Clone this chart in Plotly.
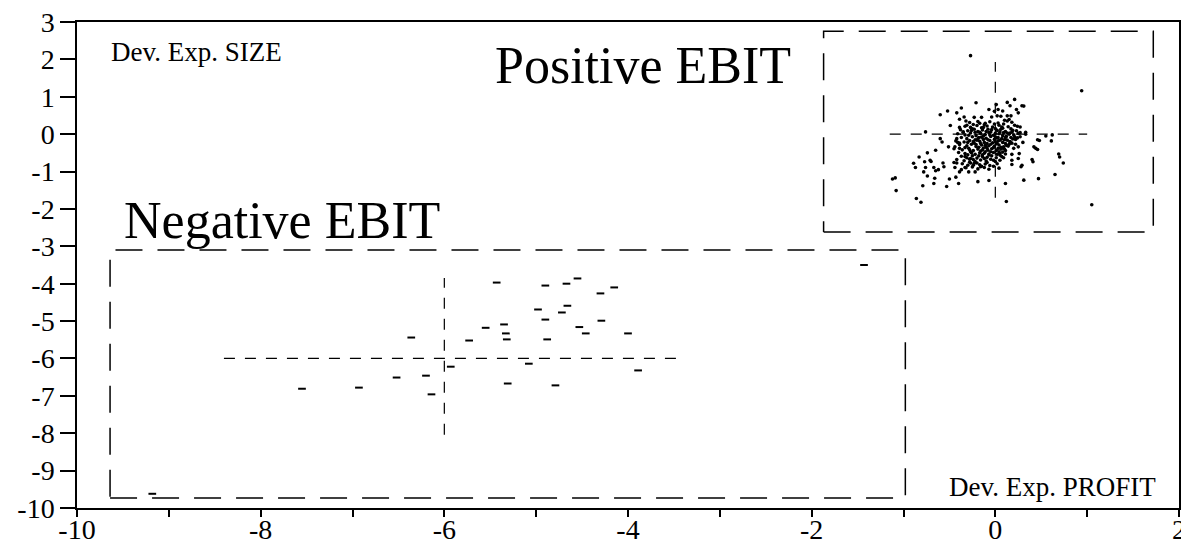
import plotly.graph_objects as go

# ---------------- data ----------------
# Negative EBIT firms (dash markers)
neg_x = [-5.43, -4.90, -4.67, -4.55, -4.30, -4.15, -4.98, -4.66, -4.72, -4.90, -4.29,
         -5.35, -5.55, -5.33, -5.32, -5.73, -6.36, -4.88, -4.53, -4.46, -4.00, -5.08,
         -5.93, -3.89, -6.20, -6.52, -6.93, -7.55, -6.14, -5.31, -4.79, -1.43, -9.18]
neg_y = [-3.97, -4.05, -4.00, -3.86, -4.26, -4.10, -4.69, -4.59, -4.77, -4.96, -4.99,
         -5.09, -5.18, -5.33, -5.49, -5.52, -5.44, -5.49, -5.16, -5.33, -5.33, -6.14,
         -6.22, -6.32, -6.46, -6.51, -6.78, -6.81, -6.96, -6.67, -6.72, -3.50, -9.62]

# Positive EBIT firms, scattered points
pos_sparse_x = [-0.27, -0.21, -0.60, -0.52, -0.42, -0.37, -0.34, -0.49, -0.39, -0.39, -0.32,
                -0.31, -0.23, -0.15, -0.07, -0.04, -0.01, -0.76, -0.35,
                0.94, 0.21, 0.13, 0.16, 0.29, 0.23, 0.25, 0.08, 0.03, 0.02, 0.06, 0.13,
                0.17, 0.15, 0.10, 0.24, 0.27, 0.19, 0.16, 0.33, 0.25, 0.01, 0.31,
                -0.60, -0.58, -0.51, -0.42, -0.41, -0.44, -0.39, -0.65, -0.74, -0.83, -0.71,
                -0.77, -0.89, -0.87, -0.76, -0.67, -0.57, -0.56, -0.45, -0.42, -0.44, -0.65,
                -0.62, -0.78, -0.39, -0.37, -0.33, -0.29, -0.22, -0.16, -0.24, -0.27, -0.74,
                -0.66, -0.50, -0.43, -1.09, -1.12, -1.08, -0.67, -0.79, -0.53, -0.40, -0.19,
                -0.07, -0.86, -0.81, -0.70,
                0.55, 0.62, 0.61, 0.46, 0.42, 0.44, 0.69, 0.70, 0.74, 0.40, 0.41, 0.28,
                0.29, 0.18, 0.18, 0.25, 0.26, 0.18, 0.11, 0.05, 0.65, 0.47, 0.31, 0.11,
                0.12, 1.05, 0.25, 0.20, 0.14, 0.22, 0.30, 0.27, 0.33, 0.22, 0.16, 0.11,
                0.07, 0.04, 0.17, 0.11, 0.05, 0.02, 0.48, 0.46]
pos_sparse_y = [2.10, 0.84, 0.52, 0.62, 0.57, 0.70, 0.46, 0.23, 0.40, 0.18, 0.35,
                0.24, 0.45, 0.45, 0.66, 0.46, 0.61, 0.06, 0.05,
                1.16, 0.93, 0.85, 0.76, 0.76, 0.66, 0.57, 0.62, 0.66, 0.49, 0.48, 0.49,
                0.49, 0.39, 0.37, 0.21, 0.19, 0.10, 0.03, 0.05, 0.02, 0.79, 0.75,
                -0.12, -0.21, -0.34, -0.12, -0.22, -0.34, -0.38, -0.43, -0.50, -0.61, -0.70,
                -0.74, -0.78, -0.89, -0.89, -0.89, -0.77, -0.87, -0.76, -0.77, -0.89, -0.98,
                -0.95, -1.01, -1.01, -0.95, -0.89, -1.01, -1.01, -0.87, -0.83, -0.77, -1.12,
                -1.18, -1.20, -1.15, -1.17, -1.20, -1.51, -1.32, -1.38, -1.40, -1.32, -1.27,
                -1.24, -1.72, -1.82, -0.73,
                -0.05, -0.02, -0.18, -0.15, -0.34, -0.38, -0.53, -0.61, -0.77, -0.68, -0.74, -0.87,
                -0.83, -0.81, -0.70, -0.65, -0.52, -0.54, -0.53, -0.56, -1.08, -1.19, -1.23, -1.32,
                -1.80, -1.89, -0.34, -0.38, -0.32, -0.27, -0.22, -0.07, 0.00, -0.14, -0.21, -0.25,
                -0.38, -0.47, -0.09, -0.09, -0.16, -0.25, -0.17, -0.41]

# Positive EBIT firms, dense core
pos_core_x = [-0.28, -0.19, -0.11, -0.06, 0.03, 0.09, 0.18, -0.24, 0.13,
              -0.33, -0.27, -0.20, -0.15, -0.09, -0.03, 0.04, 0.08, 0.14, 0.21, -0.12, 0.00,
              -0.38, -0.30, -0.25, -0.19, -0.14, -0.08, -0.05, 0.02, 0.06, 0.11, 0.17, 0.23, -0.22, 0.09,
              -0.41, -0.33, -0.27, -0.21, -0.16, -0.11, -0.07, -0.02, 0.04, 0.08, 0.13, 0.20, 0.27, -0.13, 0.00,
              -0.37, -0.31, -0.25, -0.19, -0.15, -0.10, -0.05, -0.01, 0.03, 0.07, 0.12, 0.19, 0.24, -0.22, 0.00, -0.08,
              -0.43, -0.34, -0.28, -0.23, -0.17, -0.12, -0.06, -0.03, 0.03, 0.08, 0.13, 0.18, -0.09, 0.00, -0.20,
              -0.39, -0.31, -0.26, -0.21, -0.15, -0.10, -0.05, -0.01, 0.04, 0.09, 0.15, -0.18, -0.07, 0.06,
              -0.45, -0.36, -0.29, -0.24, -0.19, -0.13, -0.08, -0.04, 0.01, 0.06, 0.11, -0.16, -0.02,
              -0.40, -0.33, -0.27, -0.22, -0.17, -0.11, -0.07, -0.02, 0.02, 0.08, -0.14, -0.30,
              -0.37, -0.31, -0.25, -0.20, -0.14, -0.09, -0.04, 0.01, 0.07, -0.27,
              -0.42, -0.34, -0.28, -0.22, -0.16, -0.10, -0.05, 0.00, 0.05,
              -0.36, -0.30, -0.23, -0.17, -0.11, -0.06, 0.02, -0.02,
              -0.32, -0.25, -0.19, -0.12, -0.07, 0.04]
pos_core_y = [0.31, 0.34, 0.29, 0.33, 0.30, 0.27, 0.32, 0.26, 0.35,
              0.21, 0.18, 0.23, 0.17, 0.22, 0.19, 0.24, 0.16, 0.20, 0.24, 0.25, 0.15,
              0.12, 0.09, 0.14, 0.07, 0.11, 0.13, 0.06, 0.10, 0.13, 0.07, 0.14, 0.09, 0.05, 0.04,
              0.01, -0.02, 0.03, -0.04, 0.02, -0.01, 0.04, -0.03, 0.01, -0.04, 0.03, -0.02, 0.04, -0.05, 0.02,
              -0.09, -0.12, -0.07, -0.13, -0.08, -0.11, -0.06, -0.14, -0.09, -0.12, -0.06, -0.13, -0.10, -0.15, -0.07, -0.15,
              -0.18, -0.21, -0.17, -0.24, -0.19, -0.22, -0.17, -0.23, -0.18, -0.22, -0.16, -0.24, -0.25, -0.20, -0.16,
              -0.28, -0.31, -0.27, -0.33, -0.29, -0.34, -0.27, -0.32, -0.29, -0.34, -0.27, -0.35, -0.31, -0.35,
              -0.39, -0.42, -0.38, -0.44, -0.40, -0.37, -0.43, -0.39, -0.44, -0.40, -0.44, -0.45, -0.36,
              -0.49, -0.52, -0.47, -0.54, -0.50, -0.47, -0.53, -0.49, -0.54, -0.48, -0.55, -0.55,
              -0.59, -0.63, -0.58, -0.64, -0.60, -0.62, -0.58, -0.63, -0.60, -0.65,
              -0.68, -0.71, -0.67, -0.73, -0.69, -0.72, -0.67, -0.73, -0.70,
              -0.79, -0.83, -0.78, -0.82, -0.80, -0.84, -0.79, -0.86,
              -0.90, -0.88, -0.93, -0.89, -0.94, -0.91]
pos_core2_x = [-0.26, -0.17, -0.04, 0.05, 0.15, -0.29, -0.18, -0.06, 0.10, -0.24,
               -0.13, 0.01, 0.12, -0.33, -0.21, -0.11, 0.03, -0.26, -0.14, -0.05,
               0.05, -0.18, -0.07, -0.33, -0.24, -0.12, -0.02, -0.20, -0.09, -0.15,
               -0.35, -0.10, 0.18, -0.23, 0.01, -0.16, 0.16, -0.28, 0.10, -0.09,
               -0.30, 0.07, -0.17, -0.01, -0.13, 0.21, -0.39, -0.12, -0.28, 0.09]
pos_core2_y = [0.10, 0.05, 0.12, 0.06, 0.00, -0.03, -0.09, -0.02, -0.15, -0.20,
               -0.14, -0.26, -0.30, -0.36, -0.28, -0.30, -0.38, -0.50, -0.42, -0.47,
               -0.52, -0.58, -0.56, -0.60, -0.68, -0.65, -0.70, -0.77, -0.76, -0.86,
               0.06, 0.07, 0.05, 0.13, -0.10, -0.25, -0.20, -0.42, -0.40, -0.38,
               -0.22, 0.19, 0.29, 0.27, 0.18, -0.07, -0.24, -0.51, -0.75, -0.63]

# Group boxes [x0, x1, y0, y1]
neg_box = [-9.64, -0.98, -9.73, -3.10]
pos_box = [-1.87, 1.72, -2.62, 2.75]
# Group centre cross-hairs: horizontal [x0, x1, y], vertical [x, y0, y1]
neg_hline = [-8.40, -3.38, -6.0]
neg_vline = [-6.0, -8.04, -3.85]
pos_hline = [-1.15, 1.00, 0.0]
pos_vline = [0.0, -1.70, 1.93]

x_ticks = [-10, -8, -6, -4, -2, 0, 2]
y_ticks = list(range(-10, 4))

FONT = "Liberation Serif, Times New Roman, serif"
TICK_SIZE = 28

fig = go.Figure()


def add_box(b):
    x0, x1, y0, y1 = b
    fig.add_trace(go.Scatter(x=[x0, x1, x1, x0, x0], y=[y0, y0, y1, y1, y0],
                             mode="lines", line=dict(color="black", width=1.5, dash="27px,15px"),
                             hoverinfo="skip", showlegend=False))


def add_cross(h, v):
    fig.add_trace(go.Scatter(x=[h[0], h[1]], y=[h[2], h[2]], mode="lines",
                             line=dict(color="black", width=1.2, dash="11px,10px"),
                             hoverinfo="skip", showlegend=False))
    fig.add_trace(go.Scatter(x=[v[0], v[0]], y=[v[1], v[2]], mode="lines",
                             line=dict(color="black", width=1.2, dash="11px,10px"),
                             hoverinfo="skip", showlegend=False))


add_box(neg_box)
add_box(pos_box)
add_cross(neg_hline, neg_vline)
add_cross(pos_hline, pos_vline)

fig.add_trace(go.Scatter(x=neg_x, y=neg_y, mode="markers",
                         marker=dict(symbol="line-ew", size=5.5, color="black",
                                     line=dict(color="black", width=2)),
                         showlegend=False))
fig.add_trace(go.Scatter(x=pos_sparse_x + pos_core_x + pos_core2_x,
                         y=pos_sparse_y + pos_core_y + pos_core2_y, mode="markers",
                         marker=dict(symbol="circle", size=3.6, color="black", line=dict(width=0)),
                         showlegend=False))

annots = [
    dict(x=-5.47, y=1.84, text="Positive EBIT", size=52),
    dict(x=-9.51, y=-2.30, text="Negative EBIT", size=52),
    dict(x=-9.65, y=2.19, text="Dev. Exp. SIZE", size=27),
    dict(x=-0.53, y=-9.43, text="Dev. Exp. PROFIT", size=27),
]
for a in annots:
    fig.add_annotation(x=a["x"], y=a["y"], xref="x", yref="y", text=a["text"], showarrow=False,
                       xanchor="left", yanchor="middle",
                       font=dict(family=FONT, size=a["size"], color="black"))

fig.update_layout(
    width=1181, height=544,
    margin=dict(l=77, r=2, t=22, b=36, autoexpand=False),
    paper_bgcolor="white", plot_bgcolor="white",
    font=dict(family=FONT, size=TICK_SIZE, color="black"),
    showlegend=False,
)
fig.update_xaxes(range=[-10, 2], tickvals=x_ticks, ticktext=[str(v) for v in x_ticks],
                 ticks="outside", ticklen=7, tickwidth=1.5, tickcolor="black",
                 minor=dict(dtick=1, tick0=-10, ticks="outside", ticklen=7, tickwidth=1.5, tickcolor="black"),
                 showline=True, linecolor="black", linewidth=1.5, mirror=True, automargin=False,
                 showgrid=False, zeroline=False, ticklabeloverflow="allow", ticklabelstandoff=-11,
                 tickfont=dict(family=FONT, size=TICK_SIZE))
fig.update_yaxes(range=[-10, 3], tickvals=y_ticks, ticktext=[str(v) for v in y_ticks],
                 ticks="outside", ticklen=15, tickwidth=1.5, tickcolor="black",
                 showline=True, linecolor="black", linewidth=1.5, mirror=True, automargin=False,
                 showgrid=False, zeroline=False, ticklabeloverflow="allow",
                 tickfont=dict(family=FONT, size=TICK_SIZE))

fig.write_html("out.html")
